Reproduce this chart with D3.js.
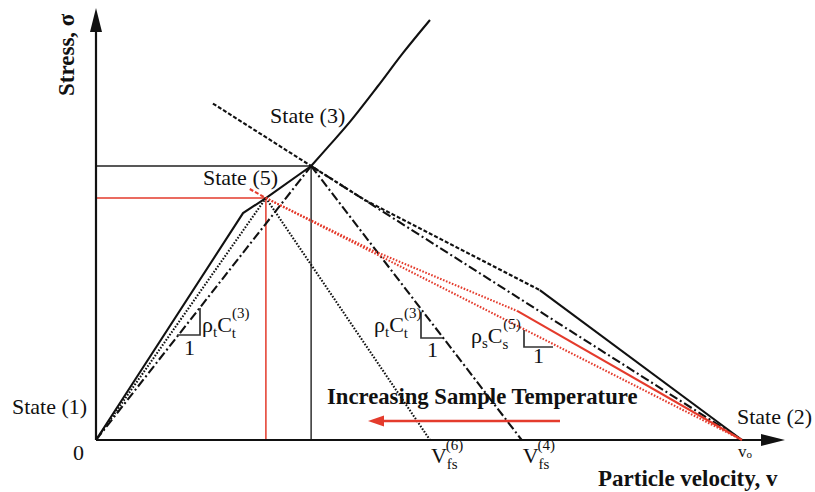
<!DOCTYPE html>
<html>
<head>
<meta charset="utf-8">
<style>
  body { margin: 0; background: #fff; }
  svg { display: block; }
  text { font-family: "Liberation Serif", "Times New Roman", serif; fill: #111; }
  .bold { font-weight: bold; }
</style>
</head>
<body>
<div id="chart"></div>
<script src="https://cdnjs.cloudflare.com/ajax/libs/d3/7.8.5/d3.min.js"></script>
<script>
// States in (particle velocity, stress), v0 = 1, sigma(3) = 1
const state1 = [0, 0];
const state2 = [1, 0];
const state3 = [0.333, 1.0];
const state5 = [0.263, 0.883];
const vfs6 = 0.517;
const vfs4 = 0.659;

// loading path (solid) and Hugoniot above state 3
const loadPath = [[0, 0], [0.2276, 0.828], [0.263, 0.883], [0.333, 1.0]];
const hugoniotUp = [[0.333, 1.0], [0.362, 1.077], [0.393, 1.161], [0.4365, 1.292], [0.475, 1.412], [0.517, 1.533]];

// window / impactor lines
const dashedRight = [[0.181, 1.228], [0.333, 1.0], [0.416, 0.876], [0.687, 0.547]];
const solidRight = [[0.687, 0.547], [1, 0]];
const dashDotRight = [[0.333, 1.0], [1, 0]];
const dashDotLeft = [[0, 0], [0.333, 1.0]];
const dashDotRelease = [[0.333, 1.0], [vfs4, 0]];
const dottedLeft = [[0, 0], [0.263, 0.883]];
const dottedRelease = [[0.263, 0.883], [vfs6, 0]];

// red (state 5) lines
const redDashed = [[0.238, 0.916], [0.263, 0.883]];
const redDottedUpper = [[0.263, 0.883], [0.427, 0.693], [0.652, 0.471]];
const redSolid = [[0.652, 0.471], [1, 0]];
const redDottedLower = [[0.263, 0.883], [1, 0]];

const xMax = 1.0666, yMax = 1.577;

const W = 815, H = 492;
const x = d3.scaleLinear().domain([0, 1]).range([96, 742]);
const y = d3.scaleLinear().domain([0, 1]).range([440, 166]);

const svg = d3.select("#chart").append("svg").attr("width", W).attr("height", H);
const RED = "#e43b2c";
const line = d3.line().x(d => x(d[0])).y(d => y(d[1]));

function path(data, color, width, dash, curve) {
  const l = curve ? d3.line().x(d => x(d[0])).y(d => y(d[1])).curve(curve) : line;
  svg.append("path").attr("d", l(data)).attr("fill", "none")
    .attr("stroke", color).attr("stroke-width", width)
    .attr("stroke-dasharray", dash || null);
}

// guide lines
path([[0, state3[1]], state3, [state3[0], 0]], "#222", 1.4);
path([[0, state5[1]], state5, [state5[0], 0]], RED, 1.5);

// axes
path([[0, 0], [xMax - 0.02, 0]], "#111", 2.2);
path([[0, 0], [0, yMax - 0.05]], "#111", 2.2);
svg.append("path").attr("fill", "#111")
  .attr("d", `M${x(xMax)},${y(0)} L${x(xMax) - 24},${y(0) - 6} L${x(xMax) - 24},${y(0) + 6} Z`);
svg.append("path").attr("fill", "#111")
  .attr("d", `M${x(0)},${y(yMax)} L${x(0) - 6},${y(yMax) + 24} L${x(0) + 6},${y(yMax) + 24} Z`);

// black curves
path(loadPath, "#111", 2.1);
path(hugoniotUp, "#111", 2.1, null, d3.curveCatmullRom);
path(dashedRight, "#111", 2.1, "4,2");
path(solidRight, "#111", 2.1);
path(dashDotRight, "#111", 2.1, "9,3,2,3");
path(dashDotLeft, "#111", 2.1, "9,3,2,3");
path(dashDotRelease, "#111", 2.1, "9,3,2,3");
path(dottedLeft, "#111", 2.1, "1.6,1.6");
path(dottedRelease, "#111", 2.1, "1.6,1.6");

// red curves
path(redDashed, RED, 2.1, "4,2");
path(redDottedUpper, RED, 2.1, "1.6,1.6");
path(redSolid, RED, 2.1);
path(redDottedLower, RED, 2.1, "1.6,1.6");

// slope triangles
const tri = [
  [[200, 308], [200, 335], [177, 335]],
  [[421, 312], [421, 338], [443, 338]],
  [[524, 330], [524, 347], [553, 347]]
];
tri.forEach(t => svg.append("path").attr("fill", "none").attr("stroke", "#333").attr("stroke-width", 1.7)
  .attr("d", d3.line()(t)));

function txt(px, py, size, parts, cls, anchor) {
  const t = svg.append("text").attr("x", px).attr("y", py).attr("font-size", size)
    .attr("class", cls || null).attr("text-anchor", anchor || "start");
  parts.forEach(p => {
    const s = t.append("tspan").text(p.t);
    if (p.dx) s.attr("dx", p.dx);
    if (p.dy) s.attr("dy", p.dy);
    if (p.s) s.attr("font-size", p.s);
  });
  return t;
}

// state labels
txt(12, 414, 22, [{t: "State (1)"}]);
txt(737, 424, 22, [{t: "State (2)"}]);
txt(x(state3[0]) - 41, 123, 22, [{t: "State (3)"}]);
txt(x(state5[0]) - 63, 185, 22, [{t: "State (5)"}]);
txt(73, 460, 22, [{t: "0"}]);

// tick labels
txt(x(1) - 4, 457, 17, [{t: "v"}, {t: "o", s: 11, dy: 1}]);
[[vfs6, "(6)"], [vfs4, "(4)"]].forEach(([v, sup]) => {
  txt(x(v) + 1, 463, 22, [{t: "V"}, {t: "fs", s: 15, dy: 6}, {t: sup, s: 15, dx: -12, dy: -19}]);
});

// slope labels
const sub = 15;
txt(202, 332, 22, [{t: "ρ"}, {t: "t", s: sub, dy: 5}, {t: "C", dy: -5}, {t: "t", s: sub, dy: 6}, {t: "(3)", s: sub, dx: -4, dy: -20}]);
txt(184, 355, 22, [{t: "1"}]);
txt(374, 332, 22, [{t: "ρ"}, {t: "t", s: sub, dy: 5}, {t: "C", dy: -5}, {t: "t", s: sub, dy: 6}, {t: "(3)", s: sub, dx: -4, dy: -20}]);
txt(427, 357, 22, [{t: "1"}]);
txt(471, 343, 22, [{t: "ρ"}, {t: "s", s: sub, dy: 5}, {t: "C", dy: -5}, {t: "s", s: sub, dy: 6}, {t: "(5)", s: sub, dx: -5, dy: -20}]);
txt(533, 363, 22, [{t: "1"}]);

// temperature arrow
svg.append("line").attr("x1", 560).attr("x2", 380).attr("y1", 421).attr("y2", 421)
  .attr("stroke", RED).attr("stroke-width", 2.5);
svg.append("path").attr("fill", RED).attr("d", "M368,421 L384,415.5 L384,426.5 Z");
txt(327, 404, 22.7, [{t: "Increasing Sample Temperature"}], "bold");

// axis titles
txt(598, 486, 23, [{t: "Particle velocity, v"}], "bold");
svg.append("text").attr("class", "bold").attr("font-size", 23)
  .attr("transform", "translate(74,96) rotate(-90)").text("Stress, σ");
</script>
</body>
</html>
